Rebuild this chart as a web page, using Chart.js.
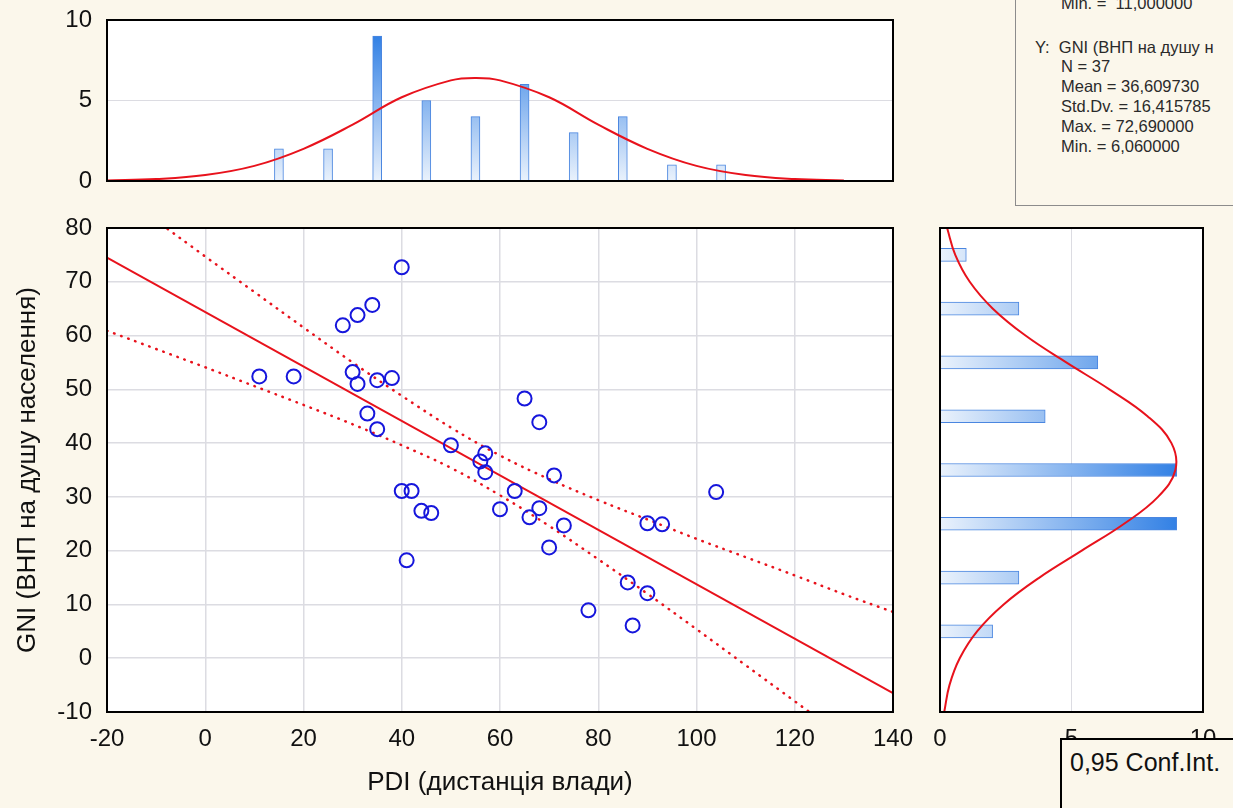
<!DOCTYPE html>
<html>
<head>
<meta charset="utf-8">
<script src="https://cdn.jsdelivr.net/npm/chart.js@4/dist/chart.umd.min.js"></script>
<style>
body { margin:0; background:#fbf7eb; width:1233px; height:808px; overflow:hidden; position:relative; font-family:"Liberation Sans", Arial, sans-serif; }
canvas { position:absolute; }
#gni_pdi_top { left:0; top:0; }
#gni_pdi_scatter { left:0; top:210px; }
#gni_pdi_right { left:930px; top:210px; }
.stats_box { position:absolute; left:1015px; top:-20px; width:240px; height:224px; border:1px solid #8c8c8c; background:#fbf7eb; font-size:16.5px; color:#2a2a2a; }
.stats_box div { position:absolute; white-space:nowrap; }
.conf_box { position:absolute; left:1060px; top:738px; width:200px; height:90px; border:2px solid #000; background:#fbf7eb; font-size:25px; color:#111; }
.conf_box span { position:absolute; left:8px; top:8px; }
</style>
</head>
<body>
<canvas id="gni_pdi_top" width="930" height="210"></canvas>
<canvas id="gni_pdi_scatter" width="930" height="598"></canvas>
<canvas id="gni_pdi_right" width="303" height="598"></canvas>

<div class="stats_box">
  <div style="left:45px; top:13px;">Min. =&nbsp; 11,000000</div>
  <div style="left:19px; top:57px;">Y:&nbsp; GNI (ВНП на душу н</div>
  <div style="left:45px; top:76px;">N = 37</div>
  <div style="left:45px; top:96px;">Mean = 36,609730</div>
  <div style="left:45px; top:116px;">Std.Dv. = 16,415785</div>
  <div style="left:45px; top:136px;">Max. = 72,690000</div>
  <div style="left:45px; top:156px;">Min. = 6,060000</div>
</div>
<div class="conf_box"><span>0,95 Conf.Int.</span></div>

<script>
// countries: power distance vs GNI per capita
var pdi_values = [11, 18, 28, 31, 34, 40, 30, 31, 35, 38, 33, 35, 40, 42, 44, 46, 41, 50, 56, 57, 57, 65, 68, 63, 60, 66, 68, 71, 73, 70, 90, 93, 104, 78, 86, 90, 87];
var gni_values = [52.4, 52.4, 61.9, 63.8, 65.7, 72.7, 53.2, 51, 51.7, 52.1, 45.5, 42.6, 31.1, 31.1, 27.4, 27, 18.2, 39.6, 36.6, 38.1, 34.6, 48.3, 43.9, 31.1, 27.7, 26.2, 27.9, 34, 24.7, 20.6, 25.1, 24.9, 30.9, 8.9, 14.1, 12.1, 6.1];

// histograms
var pdi_bins = [15, 25, 35, 45, 55, 65, 75, 85, 95, 105];
var pdi_counts = [2, 2, 9, 5, 4, 6, 3, 4, 1, 1];
var gni_bins = [5, 15, 25, 35, 45, 55, 65, 75];
var gni_counts = [2, 3, 9, 9, 4, 6, 3, 1];

// fitted normal curves, read at a few points
var pdi_curve_x = [-20, -10, 0, 10, 20, 30, 40, 50, 55, 60, 70, 80, 90, 100, 110, 120, 130];
var pdi_curve_n = [0.03, 0.12, 0.37, 0.94, 2.0, 3.5, 5.2, 6.25, 6.4, 6.25, 5.2, 3.5, 2.0, 0.94, 0.37, 0.12, 0.03];
var gni_curve_y = [-10, -5, 0, 5, 10, 15, 20, 25, 30, 35, 40, 45, 50, 55, 60, 65, 70, 75, 80];
var gni_curve_n = [0.16, 0.36, 0.75, 1.41, 2.42, 3.78, 5.39, 7.0, 8.29, 8.95, 8.8, 7.89, 6.44, 4.8, 3.25, 2.01, 1.13, 0.58, 0.27];

// regression line and 0,95 band
var fit_x = [-20, 140];
var fit_y = [74.5, -6.5];
var band_x = [-20, -10, 0, 10, 20, 30, 40, 50, 60, 70, 80, 90, 100, 110, 120, 130, 140];
var band_hi = [88.1, 81.4, 74.7, 68.1, 61.5, 55.0, 48.8, 42.9, 37.7, 33.3, 29.4, 25.8, 22.2, 18.8, 15.4, 11.9, 8.6];
var band_lo = [60.9, 57.5, 54.1, 50.6, 47.1, 43.5, 39.6, 35.4, 30.3, 24.6, 18.4, 12.0, 5.4, -1.3, -8.0, -14.7, -21.4];

Chart.defaults.font.family = '"Liberation Sans", Arial, sans-serif';
Chart.defaults.font.size = 24;
Chart.defaults.color = '#111';
Chart.defaults.animation = false;

var RED = '#e8121c';
var BLUE = '#1616dc';
var GRID = '#dcdce2';

function pairs(xs, ys) {
    var out = [];
    for (var i = 0; i < xs.length; i++) out.push({ x: xs[i], y: ys[i] });
    return out;
}

// fixed axis sizes, no label overflow padding
function fix_width(w) {
    return function (s) { s.width = w; s.paddingTop = 0; s.paddingBottom = 0; };
}
function fix_height(h) {
    return function (s) { s.height = h; s.paddingLeft = 0; s.paddingRight = 0; };
}

// black frame round the plot area
var frame_plugin = {
    id: 'frame',
    afterDraw: function (chart) {
        var a = chart.chartArea, c = chart.ctx;
        c.save();
        c.strokeStyle = '#000';
        c.lineWidth = 2;
        c.strokeRect(a.left, a.top, a.right - a.left, a.bottom - a.top);
        c.restore();
    },
    beforeDatasetsDraw: function (chart) {
        var a = chart.chartArea, c = chart.ctx;
        c.save();
        c.fillStyle = '#fff';
        c.globalCompositeOperation = 'destination-over';
        c.fillRect(a.left, a.top, a.right - a.left, a.bottom - a.top);
        c.restore();
    }
};

function bar_gradient(vertical) {
    return function (ctx) {
        var a = ctx.chart.chartArea;
        if (!a) return '#9cc4f2';
        var g = vertical
            ? ctx.chart.ctx.createLinearGradient(0, a.bottom, 0, a.top)
            : ctx.chart.ctx.createLinearGradient(a.left, 0, a.right, 0);
        g.addColorStop(0, '#eaf2fc');
        g.addColorStop(1, '#1e74e2');
        return g;
    };
}

function only_five(ctx) {
    return ctx.tick && ctx.tick.value === 5 ? GRID : 'rgba(0,0,0,0)';
}

// top: PDI histogram
new Chart(document.getElementById('gni_pdi_top'), {
    type: 'bar',
    data: {
        datasets: [{
            type: 'line',
            data: pairs(pdi_curve_x, pdi_curve_n),
            borderColor: RED,
            borderWidth: 2,
            pointRadius: 0,
            tension: 0.4
        }, {
            data: pairs(pdi_bins, pdi_counts),
            backgroundColor: bar_gradient(true),
            borderColor: '#4a86e0',
            borderWidth: 1,
            barThickness: 9
        }]
    },
    options: {
        responsive: false,
        layout: { padding: { top: 20, right: 37 } },
        plugins: { legend: { display: false }, tooltip: { enabled: false } },
        scales: {
            x: {
                type: 'linear', min: -20, max: 140, offset: false,
                ticks: { display: false },
                grid: { display: false },
                border: { display: false },
                afterFit: fix_height(29)
            },
            y: {
                min: 0, max: 10,
                ticks: { stepSize: 5, padding: 15 },
                grid: { color: only_five, drawTicks: false },
                border: { display: false },
                afterFit: fix_width(107)
            }
        }
    },
    plugins: [frame_plugin]
});

// main scatter
new Chart(document.getElementById('gni_pdi_scatter'), {
    type: 'scatter',
    data: {
        datasets: [{
            data: pairs(pdi_values, gni_values),
            pointStyle: 'circle',
            pointRadius: 7,
            borderColor: BLUE,
            borderWidth: 2,
            backgroundColor: 'rgba(0,0,0,0)'
        }, {
            data: pairs(fit_x, fit_y),
            showLine: true,
            borderColor: RED,
            borderWidth: 2,
            pointRadius: 0
        }, {
            data: pairs(band_x, band_hi),
            showLine: true,
            borderColor: RED,
            borderWidth: 2.5,
            borderDash: [0.5, 7],
            borderCapStyle: 'round',
            pointRadius: 0,
            tension: 0.4
        }, {
            data: pairs(band_x, band_lo),
            showLine: true,
            borderColor: RED,
            borderWidth: 2.5,
            borderDash: [0.5, 7],
            borderCapStyle: 'round',
            pointRadius: 0,
            tension: 0.4
        }]
    },
    options: {
        responsive: false,
        layout: { padding: { top: 18, right: 37 } },
        plugins: { legend: { display: false }, tooltip: { enabled: false } },
        scales: {
            x: {
                min: -20, max: 140,
                ticks: { stepSize: 20, padding: 13 },
                grid: { color: GRID, lineWidth: 1.5, drawTicks: false },
                border: { display: false },
                title: { display: true, text: 'PDI (дистанція влади)', font: { size: 26 }, padding: { bottom: 10 } },
                afterFit: fix_height(96)
            },
            y: {
                min: -10, max: 80,
                ticks: { stepSize: 10, padding: 15 },
                grid: { color: GRID, lineWidth: 1.5, drawTicks: false },
                border: { display: false },
                title: { display: true, text: 'GNI (ВНП на душу населення)', font: { size: 26 }, padding: { top: 12 } },
                afterFit: fix_width(107)
            }
        }
    },
    plugins: [frame_plugin]
});

// right: GNI histogram
new Chart(document.getElementById('gni_pdi_right'), {
    type: 'bar',
    data: {
        datasets: [{
            type: 'line',
            data: pairs(gni_curve_n, gni_curve_y),
            borderColor: RED,
            borderWidth: 2,
            pointRadius: 0,
            tension: 0.4
        }, {
            data: pairs(gni_counts, gni_bins),
            backgroundColor: bar_gradient(false),
            borderColor: '#4a86e0',
            borderWidth: 1,
            barThickness: 13
        }]
    },
    options: {
        responsive: false,
        indexAxis: 'y',
        layout: { padding: { top: 18, left: 10, right: 30 } },
        plugins: { legend: { display: false }, tooltip: { enabled: false } },
        scales: {
            x: {
                type: 'linear', min: 0, max: 10,
                ticks: { stepSize: 5, padding: 13 },
                grid: { color: only_five, drawTicks: false },
                border: { display: false },
                afterFit: fix_height(96)
            },
            y: {
                type: 'linear', min: -10, max: 80, offset: false,
                display: false
            }
        }
    },
    plugins: [frame_plugin]
});
</script>
</body>
</html>
